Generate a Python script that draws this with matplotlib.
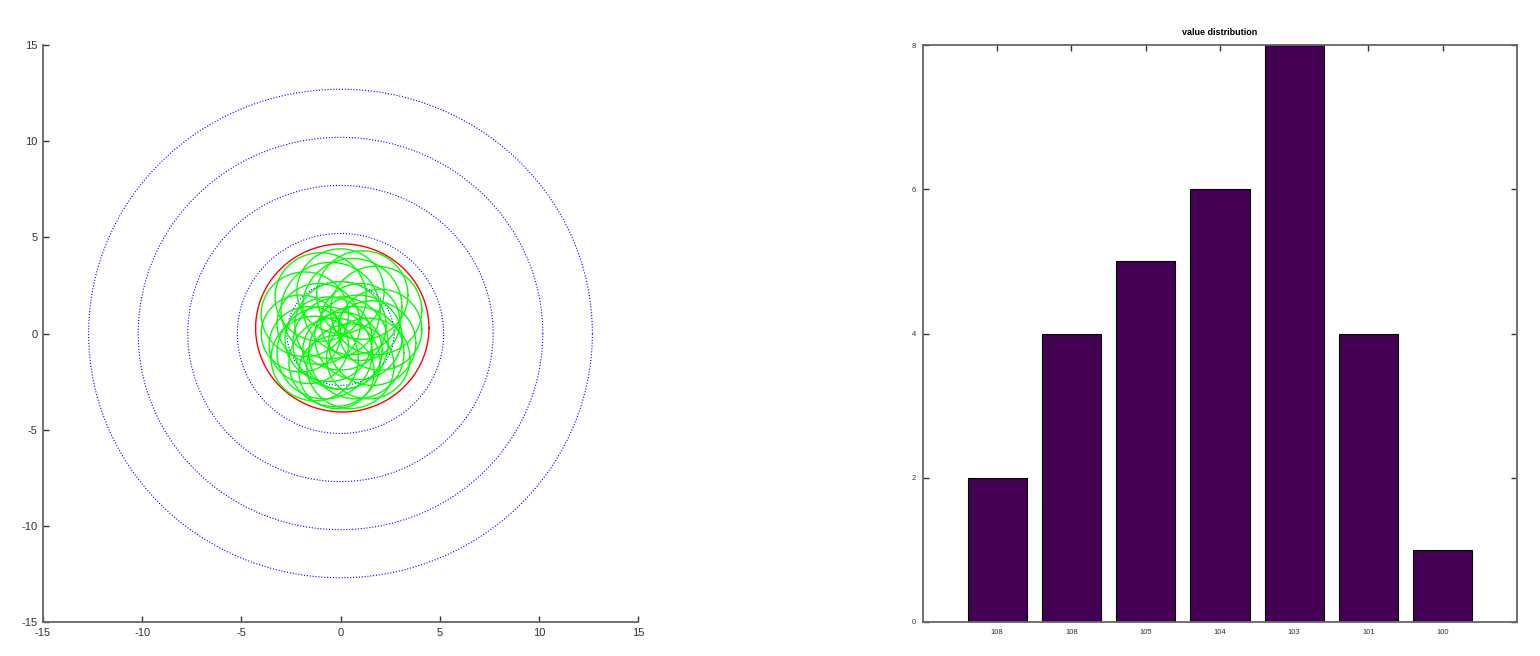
import numpy as np
import matplotlib
matplotlib.use("Agg")
import matplotlib.pyplot as plt

plt.rcParams['font.family'] = ['Liberation Sans', 'DejaVu Sans']
plt.rcParams['axes.unicode_minus'] = False

# ---- left panel data ----
ring_radii = [2.7, 5.2, 7.7, 10.2, 12.7]
red_center = (0.09, 0.29)
red_radius = 4.37
green_cx = [0.0, -1.0, 1.1, 1.8, -1.8, 0.6, -0.5, 2.0, -2.0, 0.0, -0.8, 0.8,
            -0.3, 0.5, -1.3, 1.4, 0.1, -0.6, 0.9, -1.6, 1.6, 0.0, -0.2, 1.0, -1.1]
green_cy = [2.2, 1.9, 2.0, 1.2, 1.0, 1.4, 1.2, 0.2, 0.0, -0.5, -1.0, -1.0,
            -1.5, -1.7, -1.3, -1.3, -0.9, -0.3, -0.2, -0.6, -0.5, 0.4, -2.0, 0.6, 0.5]
green_r = [2.2, 2.3, 2.3, 2.3, 2.2, 2.5, 2.5, 2.1, 2.0, 2.4, 2.4, 2.4,
           2.3, 2.2, 2.2, 2.1, 2.0, 2.2, 2.2, 2.0, 2.2, 2.3, 1.9, 2.0, 2.1]
xy_ticks = [-15, -10, -5, 0, 5, 10, 15]

# ---- right panel data ----
bar_labels = ['108', '108', '105', '104', '103', '101', '100']
bar_counts = [2, 4, 5, 6, 8, 4, 1]
count_ticks = [0, 2, 4, 6, 8]

W, H = 1540, 656
fig = plt.figure(figsize=(W / 100, H / 100), dpi=100)

spine_col = '#666666'
text_col = '#333333'

theta = np.linspace(0, 2 * np.pi, 400)

# Left axes
ax1 = fig.add_axes([43 / W, 1 - 622 / H, 595 / W, 577 / H])
for r in ring_radii:
    ax1.plot(r * np.cos(theta), r * np.sin(theta), color='blue',
             linestyle=(0, (1, 1.6)), linewidth=0.8)
ax1.plot(red_center[0] + red_radius * np.cos(theta),
         red_center[1] + red_radius * np.sin(theta), color='red', linewidth=1.0)
for cx, cy, r in zip(green_cx, green_cy, green_r):
    ax1.plot(cx + r * np.cos(theta), cy + r * np.sin(theta),
             color=(0, 1, 0), linewidth=1.0)
ax1.set_xlim(-15, 15)
ax1.set_ylim(-15, 15)
ax1.set_xticks(xy_ticks)
ax1.set_yticks(xy_ticks)
ax1.spines['top'].set_visible(False)
ax1.spines['right'].set_visible(False)
for s in ['left', 'bottom']:
    ax1.spines[s].set_color(spine_col)
    ax1.spines[s].set_linewidth(1.3)
ax1.tick_params(direction='in', length=4, width=1, colors=text_col,
                labelsize=8, pad=4)
for lbl in ax1.get_xticklabels() + ax1.get_yticklabels():
    lbl.set_color(text_col)

# Right axes
ax2 = fig.add_axes([923 / W, 1 - 622 / H, 594 / W, 577 / H])
pos = np.arange(1, len(bar_counts) + 1)
ax2.bar(pos, bar_counts, width=0.8, color='#440154', edgecolor='black',
        linewidth=0.8, zorder=2)
ax2.set_xlim(0, 8)
ax2.set_ylim(0, 8)
ax2.set_xticks(pos)
ax2.set_xticklabels(bar_labels)
ax2.set_yticks(count_ticks)
for s in ax2.spines.values():
    s.set_color(spine_col)
    s.set_linewidth(1.3)
    s.set_zorder(3)
ax2.tick_params(direction='in', length=4, width=1, colors=text_col,
                labelsize=5.5, pad=5, top=True, right=True)
ax2.set_title('value distribution', fontsize=6.5, fontweight='bold', pad=7,
              color='black')

fig.savefig('out.png', dpi=100)
